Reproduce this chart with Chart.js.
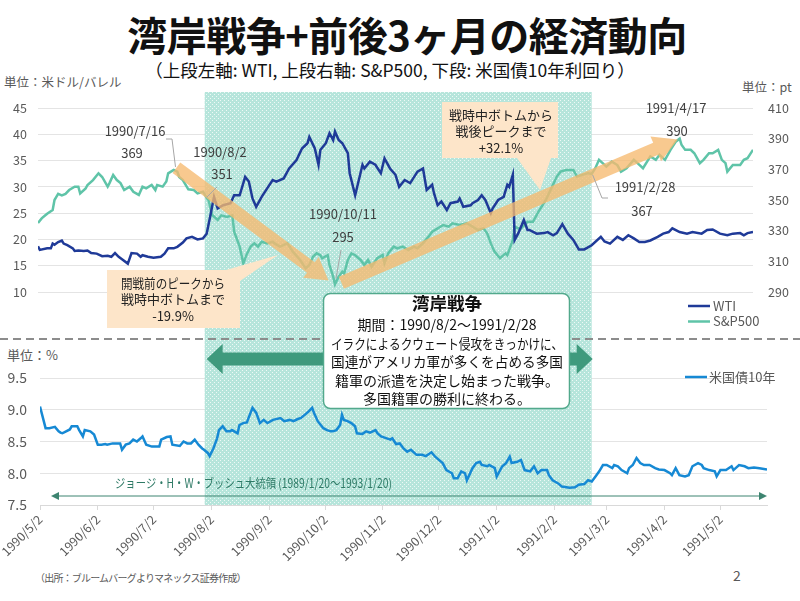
<!DOCTYPE html>
<html>
<head>
<meta charset="utf-8">
<script src="https://cdn.jsdelivr.net/npm/chart.js@4.4.1/dist/chart.umd.min.js"></script>
<style>
  body { margin: 0; background: #fff; font-family: "Noto Sans CJK JP", sans-serif; }
  #wrap { position: relative; width: 800px; height: 601px; overflow: hidden; }
  #wrap canvas { position: absolute; left: 0; top: 0; }
  .t { position: absolute; white-space: nowrap; line-height: 1; }
</style>
</head>
<body>
<div id="wrap">
  <div class="t" style="left:7px;width:800px;text-align:center;top:14px;font-size:40px;font-weight:bold;color:#111;letter-spacing:-0.5px;">湾岸戦争+前後3ヶ月の経済動向</div>
  <div class="t" style="left:0;width:780px;text-align:center;top:61px;font-size:17.5px;color:#111;">（上段左軸: WTI, 上段右軸: S&amp;P500, 下段: 米国債10年利回り）</div>
  <div class="t" style="left:4px;top:76px;font-size:12.5px;color:#595959;">単位：米ドル/バレル</div>
  <div class="t" style="left:742px;top:81px;font-size:12.5px;color:#595959;">単位：pt</div>
  <div class="t" style="left:7px;top:348px;font-size:13px;color:#595959;">単位：%</div>
  <div class="t" style="left:35px;top:573px;font-size:10px;color:#595959;letter-spacing:-0.8px;">（出所：ブルームバーグよりマネックス証券作成）</div>
  <div class="t" style="left:733px;top:568px;font-size:14px;color:#595959;">2</div>
  <canvas id="grafikAtas" width="800" height="601"></canvas>
  <canvas id="grafikBawah" width="800" height="601"></canvas>
</div>
<script>
// hari sejak 1990/5/2 (sumbu x)
const tickDays = [0, 31, 61, 92, 123, 153, 184, 214, 245, 276, 304, 335, 365];
const tickLabels = ['1990/5/2', '1990/6/2', '1990/7/2', '1990/8/2', '1990/9/2', '1990/10/2', '1990/11/2',
  '1990/12/2', '1991/1/2', '1991/2/2', '1991/3/2', '1991/4/2', '1991/5/2'];
const warDays = [92, 302]; // 1990/8/2 ~ 1991/2/28

// WTI (米ドル/バレル)
const wtiDays = [0,1,5,7,8,9,11,13,14,16, 19,20,22,25,27,29,32,35,38,40, 42,44,46,49,51,54,56,57,60,63,
  67,69,71,74,76,79,81,84,87,90, 92,94,96,98,101,105,107,110,113,115, 117,119,122,125,128,130,134,137,141,144,
  147,148,151,153,154,157,159,161,162,164, 166,169,170,173,175,177,178,181,184,187, 189,192,195,197,200,203,207,210,212,215,
  216,218,220,223,225,229,230,232,236,237, 240,242,244,247,248,251,254,256,257,259, 260,262,265,267,268,272,276,278,281,283,
  286,289,292,295,298,302,307,309,312,316, 319,322,325,328,331,334,338,341,344,346, 350,354,357,362,365,368,372,376,379,383,
  385,387,390];
const wtiValues = [18.7,18.0,18.3,18.3,19.2,19.0,19.5,19.8,19.2,18.9, 18.3,17.8,17.9,17.8,17.9,17.4,17.3,16.8,16.9,16.7,
  17.4,16.7,16.2,15.4,17.4,17.3,16.7,17.0,16.7,16.5, 16.7,17.3,18.3,18.3,18.6,19.4,20.2,20.5,20.0,20.2,
  21.1,24.5,28.1,25.9,26.5,26.9,28.4,28.4,31.9,31.0, 27.8,26.2,28.1,29.7,31.3,31.0,31.6,33.5,35.1,37.3,
  38.3,39.5,37.3,34.2,37.0,38.3,40.2,38.9,40.5,38.9, 38.3,36.4,32.6,28.4,31.3,34.2,33.5,34.8,34.2,32.6,
  35.4,33.5,32.3,30.0,31.3,30.7,32.9,33.5,29.4,30.4, 28.8,26.5,27.2,25.6,26.9,27.2,27.8,26.2,26.5,26.9,
  27.5,28.4,27.5,25.0,25.9,27.5,28.1,30.4,30.0,32.3, 19.9,21.2,23.7,21.8,21.8,21.1,21.2,21.4,20.8,21.2,
  22.9,21.1,19.9,18.1,18.1,18.9,20.5,19.6,19.2,20.5, 19.9,20.8,20.2,19.5,19.5,19.8,20.5,21.1,21.4,22.1,
  21.4,21.1,21.4,21.1,21.8,21.9,21.1,20.8,21.1,21.2, 20.8,21.2,21.4];

// S&P500 (pt)
const spDays = [0,2,4,5,8,9,10,11,13,15, 17,20,22,23,26,27,30,33,35,38, 39,41,43,45,47,50,52,55,57,59,
  62,64,65,68,70,71,74,76,77,79, 82,85,87,90,92,93,95,98,100,103, 106,107,110,112,114,116,118,120,122,125,
  128,129,132,136,139,143,146,148,150,152, 154,155,158,159,161,162,164,166,167,169, 171,173,176,178,180,182,185,188,189,191,
  194,196,199,202,205,207,210,213,215,218, 221,224,226,230,234,237,240,243,245,247, 249,252,255,256,259,260,263,267,270,273,
  277,280,283,285,288,292,294,297,300,302, 304,306,308,310,313,316,318,321,325,327, 330,334,337,339,342,345,348,350,351,353,
  356,358,361,363,366,368,371,373,375,376, 379,383,385,387,390];
const spValues = [335,338,340,341,343.5,350,352,354,353,354, 356.5,358.7,358.7,354.3,357.6,359.8,363,367.4,365,358.7,
  361,366.3,363,361,356.5,358.7,355.4,353.3,358.7,357.6, 359.8,356.5,359.8,358.7,362,367.4,369.6,368.5,365,363,
  357,356.5,354.3,355.4,351.5,350,340.2,337,340,339, 340,329.3,319.6,308.7,315,319.6,321.7,319.6,322.8,321.7,
  322.8,321.7,319.6,321.7,316.3,310.9,305.4,307.6,313,315.2, 314,312,314,307.6,300,295,300,303.3,302,310.9,
  315.2,314,310.9,307.6,310.9,306.5,312,314.1,308.7,315.2, 319.6,318.5,319.6,317.4,319.6,318.5,321.7,326.1,329.3,331.5,
  333.7,332.6,334.8,333.7,334.8,332.6,330.4,331.5,328.3,321.7, 316.3,312,315.2,314,323.9,332.6,331,335.8,335.8,342.4,
  350,357.6,365.3,368.5,369.6,369.6,365.3,366.4,367.5,367, 370.7,376.2,374,371.8,375,372.8,368.5,370.7,376.2,374,
  370.7,378.4,376.2,379.5,376.2,382.7,388.2,390,386,382.7, 382.7,380.5,374,376.2,380.5,380.5,382.7,376.2,374,368.5,
  372.9,372.9,376.2,377.3,382.7];

// 米国債10年 (%)
const bondDays = [0,3,5,8,10,11,12,14,16,17, 20,21,23,24,27,29,31,33,35,36, 39,41,43,44,46,48,50,52,54,55,
  57,60,63,64,65,68,70,71,75,77, 79,81,83,85,87,88,90,91,93,95, 96,98,100,102,103,106,107,109,111,112,
  114,116,118,120,122,125,129,131,134,136, 138,140,142,144,146,147,149,152,154,156, 157,159,161,162,163,165,167,169,170,173,
  175,177,180,181,183,186,188,189,191,193, 195,197,199,202,205,207,210,212,214,216, 218,221,222,224,226,228,229,232,234,236,
  237,240,241,244,245,248,250,252,253,256, 258,260,263,265,267,269,272,273,275,278, 280,284,287,289,292,294,296,298,300,302,
  304,307,308,310,312,315,316,318,320,322, 324,327,330,332,335,338,339,341,343,346, 348,350,353,355,356,359,362,363,365,368,
  371,372,375,378,380,383,386,390];
const bondValues = [9.05,8.71,8.71,8.73,8.66,8.64,8.63,8.66,8.69,8.74, 8.74,8.68,8.58,8.68,8.66,8.61,8.45,8.45,8.46,8.45,
  8.47,8.47,8.47,8.37,8.45,8.47,8.53,8.5,8.55,8.58, 8.45,8.42,8.42,8.42,8.53,8.57,8.58,8.45,8.43,8.5,
  8.47,8.47,8.53,8.45,8.39,8.37,8.32,8.27,8.39,8.55, 8.68,8.74,8.66,8.66,8.68,8.63,8.76,8.79,8.8,8.88,
  9.03,8.95,8.79,8.84,8.79,8.84,8.87,8.82,8.84,8.82, 8.85,8.87,8.92,8.97,9.03,8.95,8.82,8.71,8.68,8.66,
  8.66,8.68,8.76,8.92,8.84,8.82,8.79,8.74,8.63,8.62, 8.66,8.64,8.68,8.63,8.58,8.55,8.53,8.55,8.46,8.47,
  8.39,8.34,8.37,8.29,8.29,8.27,8.33,8.26,8.21,8.16, 8.05,8.0,7.92,7.92,8.03,8.0,7.89,8.08,8.16,8.18,
  8.13,8.11,8.13,8.08,7.95,8.11,8.16,8.26,8.16,8.18, 8.21,8.05,8.03,8.11,8.0,8.05,8.05,7.97,7.89,7.84,
  7.79,7.77,7.78,7.82,7.83,7.89,7.87,7.95,8.03,8.13, 8.13,8.08,8.13,8.11,8.05,8.0,8.08,8.13,8.24,8.16,
  8.13,8.13,8.08,8.06,8.05,8.0,7.97,8.08,7.97,7.95, 7.97,8.11,8.16,8.13,8.08,8.05,8.03,7.95,8.05,8.05,
  8.11,8.05,8.13,8.11,8.08,8.09,8.08,8.06];

const FONT = '"Noto Sans CJK JP", "Noto Sans", sans-serif';
const GREY = '#595959';
Chart.defaults.font.family = FONT;

function toPoints(days, values) {
  return days.map((d, i) => ({ x: d, y: values[i] }));
}

// pola titik untuk area perang
function dotPattern(c) {
  const p = document.createElement('canvas');
  p.width = 4; p.height = 4;
  const g = p.getContext('2d');
  g.fillStyle = '#b6e5db';
  g.fillRect(0, 0, 4, 4);
  g.fillStyle = '#eef9f6';
  g.fillRect(0, 0, 1, 1);
  g.fillRect(2, 2, 1, 1);
  return c.createPattern(p, 'repeat');
}

function text(c, s, x, y, size, color, align, weight, maxW) {
  c.font = (weight || '') + ' ' + size + 'px ' + FONT;
  c.fillStyle = color;
  c.textAlign = align || 'center';
  c.textBaseline = 'middle';
  if (maxW) c.fillText(s, x, y, maxW);
  else c.fillText(s, x, y);
}

function fatArrow(c, x0, y0, x1, y1, shaft, headW, headL, color) {
  const len = Math.hypot(x1 - x0, y1 - y0);
  const ux = (x1 - x0) / len, uy = (y1 - y0) / len, nx = -uy, ny = ux;
  const bx = x1 - ux * headL, by = y1 - uy * headL;
  c.beginPath();
  c.moveTo(x0 + nx * shaft / 2, y0 + ny * shaft / 2);
  c.lineTo(bx + nx * shaft / 2, by + ny * shaft / 2);
  c.lineTo(bx + nx * headW / 2, by + ny * headW / 2);
  c.lineTo(x1, y1);
  c.lineTo(bx - nx * headW / 2, by - ny * headW / 2);
  c.lineTo(bx - nx * shaft / 2, by - ny * shaft / 2);
  c.lineTo(x0 - nx * shaft / 2, y0 - ny * shaft / 2);
  c.closePath();
  c.fillStyle = color;
  c.fill();
}

function callout(c, box, tri, lines, cx, y0, step) {
  c.fillStyle = '#fde5c9';
  c.fillRect(box[0], box[1], box[2], box[3]);
  c.beginPath();
  c.moveTo(tri[0], tri[1]); c.lineTo(tri[2], tri[3]); c.lineTo(tri[4], tri[5]);
  c.closePath();
  c.fill();
  lines.forEach((s, i) => text(c, s, cx, y0 + i * step, 13, '#222', 'center', '', 104));
}

function leader(c, pts) {
  c.beginPath();
  c.moveTo(pts[0], pts[1]);
  for (let i = 2; i < pts.length; i += 2) c.lineTo(pts[i], pts[i + 1]);
  c.strokeStyle = '#a6a6a6';
  c.lineWidth = 1;
  c.stroke();
}

// Dekorasi grafik atas
const hiasanAtas = {
  id: 'hiasanAtas',
  beforeDatasetsDraw(chart) {
    const c = chart.ctx, xs = chart.scales.x;
    const x0 = xs.getPixelForValue(warDays[0]) - 2, x1 = xs.getPixelForValue(warDays[1]);
    c.save();
    c.fillStyle = dotPattern(c);
    c.fillRect(x0, 92, x1 - x0, 340 - 92);
    c.restore();
  },
  afterDatasetsDraw(chart) {
    const c = chart.ctx, xs = chart.scales.x, ys = chart.scales.y1;
    const px = d => xs.getPixelForValue(d), py = v => ys.getPixelForValue(v);
    c.save();
    // panah tren
    fatArrow(c, px(75.5), py(371), px(158.5), py(297.5), 13, 26, 22, 'rgba(246,186,112,0.78)');
    fatArrow(c, px(165.5), py(296), px(349), py(389.5), 13, 27, 24, 'rgba(246,186,112,0.78)');

    // callout
    callout(c, [107, 270, 133, 58], [226, 270, 240, 281, 278, 255],
      ['開戦前のピークから', '戦時中ボトムまで', '-19.9%'], 173, 283, 16.5);
    callout(c, [442, 102, 116, 56], [517, 158, 551, 158, 540, 190],
      ['戦時中ボトムから', '戦後ピークまで', '+32.1%'], 501, 115, 16.5);

    // label titik
    leader(c, [166, 139, 172, 139, px(75), py(369.6) - 3]);
    text(c, '1990/7/16', 135, 131, 13, '#404040');
    text(c, '369', 132, 153, 13, '#404040');
    leader(c, [217, 187, px(92), py(351) - 1]);
    text(c, '1990/8/2', 220, 152, 13, '#404040');
    text(c, '351', 222, 174, 13, '#404040');
    leader(c, [341, 250, px(162) + 1, py(295) - 6]);
    text(c, '1990/10/11', 343, 214, 13, '#404040');
    text(c, '295', 343, 237, 13, '#404040');
    leader(c, [608, 198, 602, 198, px(302) + 1, py(367) + 1]);
    text(c, '1991/2/28', 645, 187, 13, '#404040');
    text(c, '367', 642, 211, 13, '#404040');
    text(c, '1991/4/17', 676, 108, 13, '#404040');
    text(c, '390', 677, 131, 13, '#404040');

    // legenda
    chart.data.datasets.forEach((ds, i) => {
      const y = 306 + i * 15.5;
      c.beginPath();
      c.moveTo(688, y); c.lineTo(710, y);
      c.strokeStyle = ds.borderColor; c.lineWidth = 2.5; c.stroke();
      text(c, ds.label, 713, y, 13, GREY, 'left');
    });
    c.restore();
  }
};

// Dekorasi grafik bawah
const hiasanBawah = {
  id: 'hiasanBawah',
  beforeDatasetsDraw(chart) {
    const c = chart.ctx, xs = grafikAtas.scales.x;
    const x0 = xs.getPixelForValue(warDays[0]) - 2, x1 = xs.getPixelForValue(warDays[1]);
    c.save();
    c.fillStyle = dotPattern(c);
    c.fillRect(x0, 340, x1 - x0, chart.chartArea.bottom - 340);
    c.restore();
  },
  afterDraw(chart) {
    const c = chart.ctx, xs = grafikAtas.scales.x;
    const x0 = xs.getPixelForValue(warDays[0]), x1 = xs.getPixelForValue(warDays[1]) + 1;
    c.save();
    // garis pemisah
    c.beginPath();
    c.setLineDash([8, 5]);
    c.moveTo(0, 339); c.lineTo(800, 339);
    c.strokeStyle = '#8c8c8c'; c.lineWidth = 2; c.stroke();
    c.setLineDash([]);

    // panah dua arah masa perang
    const mid = (x0 + x1) / 2;
    fatArrow(c, mid, 359, x0, 359, 13, 30, 16, '#3f9a7d');
    fatArrow(c, mid - 1, 359, x1, 359, 13, 30, 16, '#3f9a7d');

    // kotak keterangan
    c.beginPath();
    c.roundRect(323.5, 293.5, 246, 115, 7);
    c.fillStyle = '#fff'; c.fill();
    c.strokeStyle = '#52a98c'; c.lineWidth = 1.5; c.stroke();
    text(c, '湾岸戦争', 447, 303, 17.5, '#111', 'center', 'bold');
    ['期間：1990/8/2～1991/2/28', 'イラクによるクウェート侵攻をきっかけに、', '国連がアメリカ軍が多くを占める多国',
      '籍軍の派遣を決定し始まった戦争。', '多国籍軍の勝利に終わる。'].forEach((s, i) => {
      text(c, s, 447, 325 + i * 18.5, 14, '#111', 'center', '', 232);
    });

    // masa jabatan Bush
    const by = 496;
    c.beginPath();
    c.moveTo(56, by); c.lineTo(762, by);
    c.strokeStyle = '#3d8470'; c.lineWidth = 1; c.stroke();
    c.fillStyle = '#3d8470';
    c.beginPath(); c.moveTo(51, by); c.lineTo(59, by - 4); c.lineTo(59, by + 4); c.fill();
    c.beginPath(); c.moveTo(767, by); c.lineTo(759, by - 4); c.lineTo(759, by + 4); c.fill();
    text(c, 'ジョージ・H・W・ブッシュ大統領 (1989/1/20〜1993/1/20)', 115, 483, 12.5, '#2f7a66', 'left', '', 277);

    // legenda
    const ds = chart.data.datasets[0];
    c.beginPath();
    c.moveTo(685, 377); c.lineTo(707, 377);
    c.strokeStyle = ds.borderColor; c.lineWidth = 2.5; c.stroke();
    text(c, ds.label, 709, 377, 13, GREY, 'left');
    c.restore();
  }
};

// Grafik atas: WTI dan S&P500
const ctxAtas = document.getElementById('grafikAtas');
let grafikAtas = new Chart(ctxAtas, {
  type: 'line',
  data: {
    datasets: [{
      label: 'WTI',
      data: toPoints(wtiDays, wtiValues),
      yAxisID: 'y',
      borderColor: '#1f3a98',
      borderWidth: 2.5,
      pointRadius: 0,
      tension: 0
    }, {
      label: 'S&P500',
      data: toPoints(spDays, spValues),
      yAxisID: 'y1',
      borderColor: '#5fc4a8',
      borderWidth: 2.5,
      pointRadius: 0,
      tension: 0
    }]
  },
  options: {
    responsive: false,
    animation: false,
    devicePixelRatio: 1,
    layout: { padding: { top: 108, bottom: 309, left: 0, right: 0 } },
    plugins: { legend: { display: false }, tooltip: { enabled: false } },
    scales: {
      x: { type: 'linear', min: 0, max: 390, display: false },
      y: {
        min: 10, max: 45,
        ticks: { stepSize: 5, color: GREY, font: { size: 12.5 }, padding: 11 },
        grid: { color: '#e4e4e4', drawTicks: false },
        border: { display: false },
        afterFit: s => { s.width = 38; }
      },
      y1: {
        position: 'right',
        min: 290, max: 410,
        ticks: { stepSize: 20, color: GREY, font: { size: 12.5 }, padding: 15 },
        grid: { drawOnChartArea: false, drawTicks: false },
        border: { display: false },
        afterFit: s => { s.width = 47; }
      }
    }
  },
  plugins: [hiasanAtas]
});

// Grafik bawah: 米国債10年
const ctxBawah = document.getElementById('grafikBawah');
let grafikBawah = new Chart(ctxBawah, {
  type: 'line',
  data: {
    datasets: [{
      label: '米国債10年',
      data: toPoints(bondDays, bondValues),
      borderColor: '#1689d4',
      borderWidth: 2.5,
      pointRadius: 0,
      tension: 0
    }]
  },
  options: {
    responsive: false,
    animation: false,
    devicePixelRatio: 1,
    layout: { padding: { top: 378, bottom: 36, left: 0, right: 33 } },
    plugins: { legend: { display: false }, tooltip: { enabled: false } },
    scales: {
      x: {
        type: 'linear', min: 0, max: 390,
        afterBuildTicks: s => { s.ticks = tickDays.map(v => ({ value: v })); },
        ticks: {
          autoSkip: false, minRotation: 45, maxRotation: 45,
          color: GREY, font: { size: 12.5 }, padding: 2,
          callback: v => tickLabels[tickDays.indexOf(v)]
        },
        grid: { drawOnChartArea: false, tickLength: 5, color: '#d9d9d9' },
        border: { color: '#d9d9d9' },
        afterFit: s => { s.height = 60; }
      },
      y: {
        min: 7.5, max: 9.5,
        ticks: { stepSize: 0.5, color: GREY, font: { size: 14 }, padding: 13, callback: v => v.toFixed(1) },
        grid: { color: '#e4e4e4', drawTicks: false },
        border: { display: false },
        afterFit: s => { s.width = 40; }
      }
    }
  },
  plugins: [hiasanBawah]
});
</script>
</body>
</html>
